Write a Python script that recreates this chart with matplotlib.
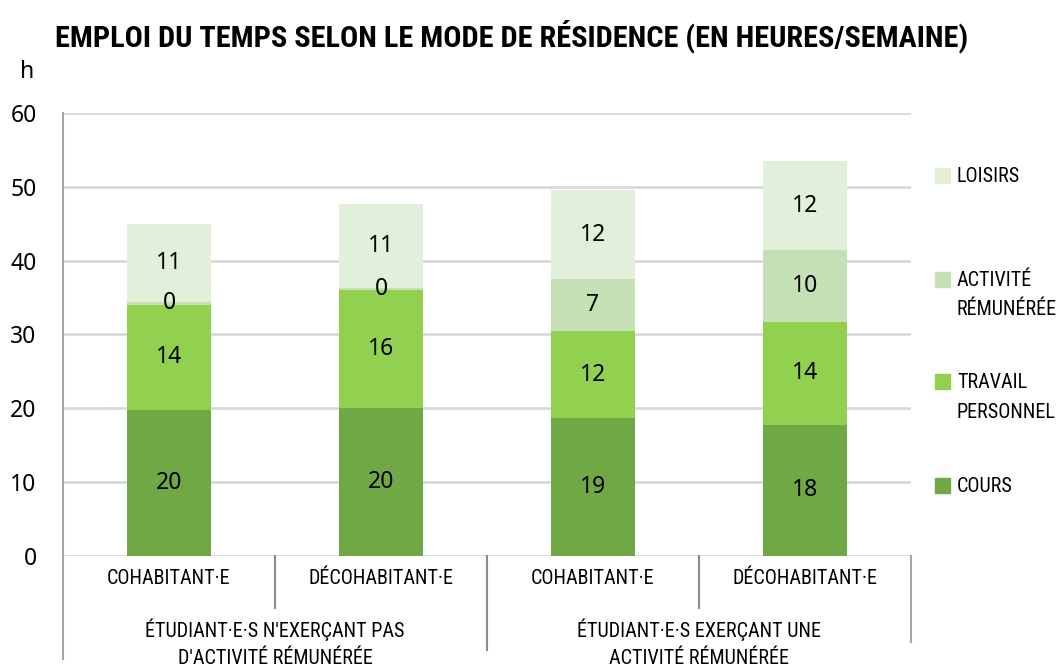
import matplotlib
matplotlib.use("Agg")
import matplotlib.pyplot as plt
import matplotlib.transforms as mtransforms
from matplotlib.patches import Rectangle
import numpy as np

# values (hours / week)
categories = ["COHABITANT·E", "DÉCOHABITANT·E", "COHABITANT·E", "DÉCOHABITANT·E"]
groups = ["ÉTUDIANT·E·S N'EXERÇANT PAS\nD'ACTIVITÉ RÉMUNÉRÉE",
          "ÉTUDIANT·E·S EXERÇANT UNE\nACTIVITÉ RÉMUNÉRÉE"]
cours = [19.8, 20.0, 18.7, 17.7]
travail = [14.2, 16.0, 11.7, 14.0]
activite = [0.4, 0.3, 7.1, 9.7]
loisirs = [10.6, 11.3, 12.0, 12.1]
series_names = ["COURS", "TRAVAIL\nPERSONNEL", "ACTIVITÉ\nRÉMUNÉRÉE", "LOISIRS"]
colors = ["#70a845", "#92d050", "#c5e0b4", "#e2efda"]

narrow = ["Roboto Condensed", "Liberation Sans Narrow", "DejaVu Sans"]
plain = ["Noto Sans", "DejaVu Sans"]

W, H = 1057, 669
fig = plt.figure(figsize=(W / 100, H / 100), dpi=100)
ax = fig.add_axes([63 / W, 1 - 555.7 / H, (911 - 63) / W, (555.7 - 113) / H])

x = np.arange(len(categories))
bottom = np.zeros(len(categories))
for vals, col in zip([cours, travail, activite, loisirs], colors):
    vals = np.array(vals)
    ax.bar(x, vals, width=0.4, bottom=bottom, color=col, zorder=3)
    for xi, b, v in zip(x, bottom, vals):
        ax.text(xi, b + v / 2, f"{v:.0f}", ha="center", va="center",
                fontsize=16.5, family=plain, zorder=4)
    bottom += vals

ax.set_xlim(-0.5, 3.5)
ax.set_ylim(0, 60)
ax.set_yticks(range(0, 61, 10))
ax.yaxis.grid(True, color="#d9d9d9", linewidth=2, zorder=0)
ax.set_xticks([])
ax.tick_params(axis="y", length=0, pad=19, labelsize=16.5)
for lab in ax.get_yticklabels():
    lab.set_family(plain)
for s in ["top", "right", "bottom"]:
    ax.spines[s].set_visible(False)
ax.spines["left"].set_color("#a6a6a6")
ax.spines["left"].set_linewidth(1.5)
ax.spines["left"].set_bounds(0, 60)

# category / group labels under the axis
trans = mtransforms.blended_transform_factory(ax.transData, ax.transAxes)
ppx = 555.7 - 113
for xi, cat in zip(x, categories):
    ax.text(xi, (555.7 - 578) / ppx, cat, transform=trans, ha="center",
            va="center", fontsize=14.5, family=narrow, fontstretch="condensed")
for gi, g in enumerate(groups):
    ax.text(0.5 + 2 * gi, (555.7 - 643) / ppx, g, transform=trans,
            ha="center", va="center", fontsize=14.5, family=narrow,
            fontstretch="condensed", linespacing=1.5)

# separators
for xs, ybot in [(-0.5, 659), (0.5, 608), (1.5, 650), (2.5, 608), (3.5, 642)]:
    ax.plot([xs, xs], [0, (555.7 - ybot) / ppx], transform=trans,
            color="#a6a6a6" if xs in (-0.5, 3.5) else "#8c8c8c",
            lw=1.5, clip_on=False, zorder=5)

# legend
leg_bottoms = [493, 389, 286.7, 183]
for name, col, pb in zip(series_names, colors, leg_bottoms):
    fig.add_artist(Rectangle((935 / W, 1 - pb / H), 15 / W, 15 / H,
                             transform=fig.transFigure, color=col))
    fig.text(957 / W, 1 - (pb - 16) / H, name, ha="left", va="top",
             fontsize=14.5, family=narrow, fontstretch="condensed",
             linespacing=1.7)

fig.text(27 / W, 1 - 72 / H, "h", ha="center", va="center",
         fontsize=16.5, family=plain)
fig.text(55 / W, 1 - 36 / H,
         "EMPLOI DU TEMPS SELON LE MODE DE RÉSIDENCE (EN HEURES/SEMAINE)",
         ha="left", va="center", fontsize=21.8, fontweight="bold",
         family=narrow, fontstretch="condensed")

fig.savefig("out.png", dpi=100)
